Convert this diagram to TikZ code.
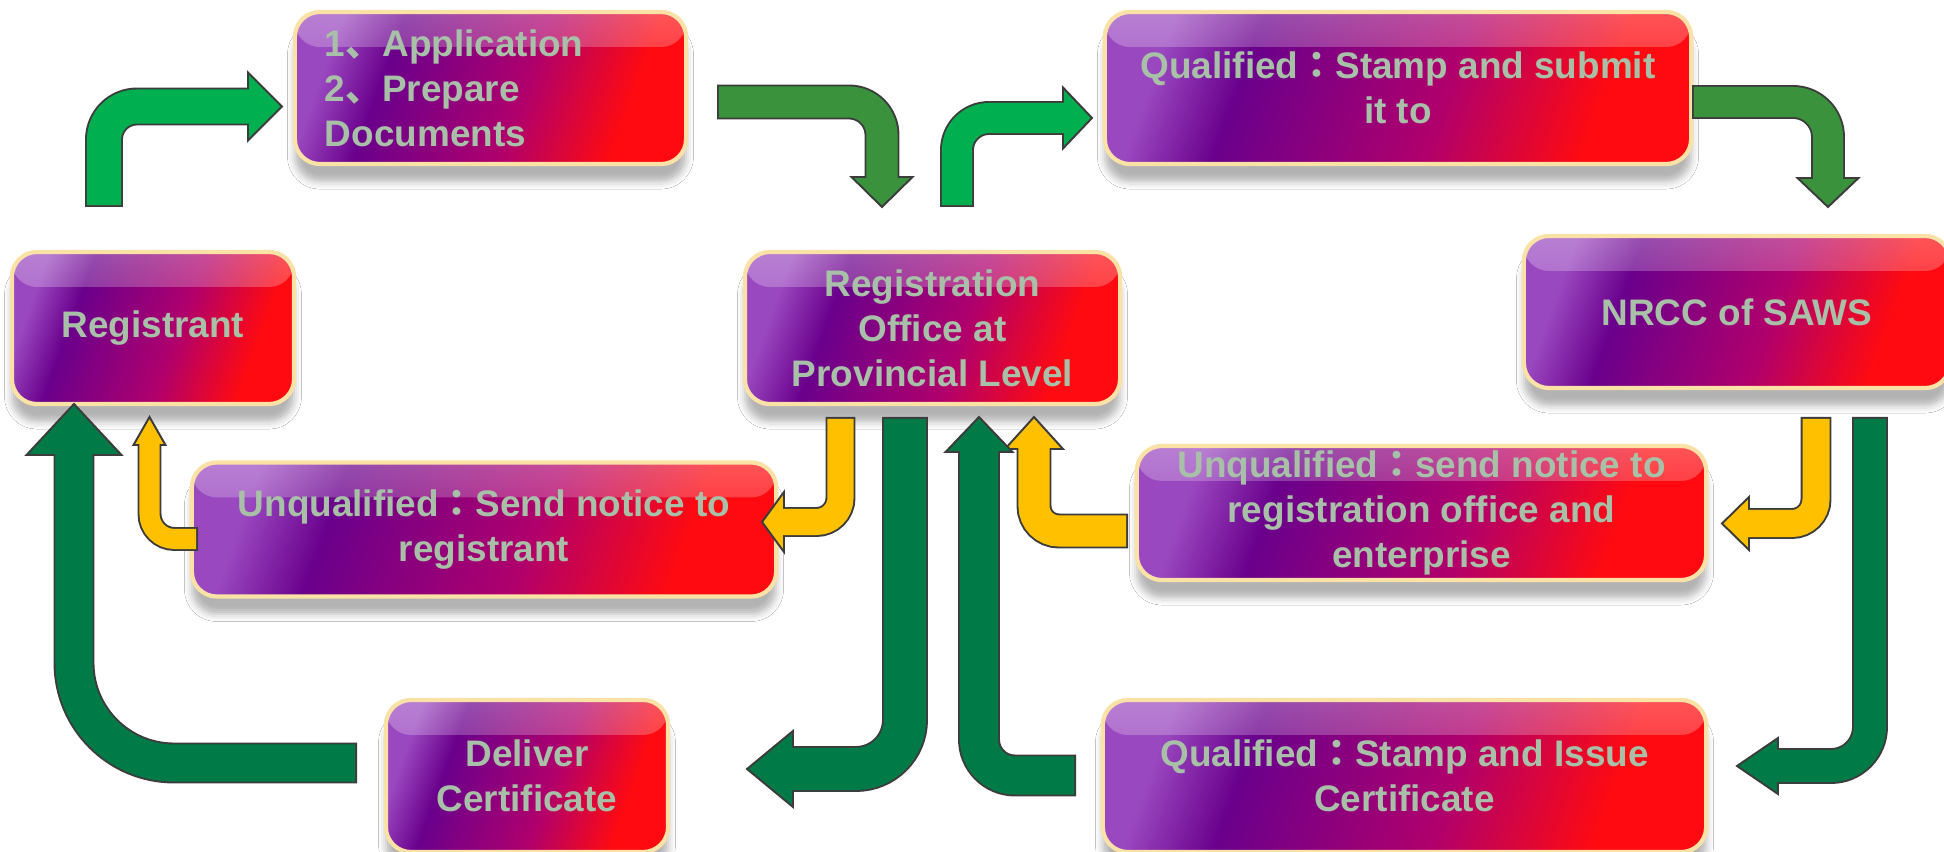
\documentclass[tikz,border=0pt]{standalone}
\usepackage{fontspec}
\setmainfont{Liberation Sans}
\newfontfamily\cjk{Noto Sans CJK SC}
\newfontfamily\cjkmid{Noto Sans CJK TC}
\usepackage{tikz}
\usetikzlibrary{shadows.blur,fadings}
\definecolor{BoxRim}{HTML}{FAE2A6}
\definecolor{BoxText}{HTML}{A8C0A8}
\definecolor{BoxLilac}{HTML}{9A48C0}
\definecolor{BoxPurple}{HTML}{6A008C}
\definecolor{BoxMagenta}{HTML}{B0006C}
\definecolor{BoxRed}{HTML}{FF0A10}
\definecolor{LeafGreen}{HTML}{00B050}
\definecolor{MossGreen}{HTML}{3A923C}
\definecolor{DeepGreen}{HTML}{007A46}
\definecolor{Amber}{HTML}{FFC000}
\definecolor{ArrowLine}{HTML}{3C3C3C}
\pgfdeclarehorizontalshading{glossy}{100bp}{color(0bp)=(BoxLilac); color(25bp)=(BoxLilac); color(34bp)=(BoxPurple); color(55bp)=(BoxMagenta); color(71bp)=(BoxRed); color(100bp)=(BoxRed)}

\begin{document}
\begin{tikzpicture}[x=0.01cm, y=-0.01cm,
    box/.style={rectangle, rounded corners=0.25cm, shading=glossy, shading angle=-20,
        draw=BoxRim, line width=1.2pt, text=BoxText, align=center, inner sep=0pt,
        font=\bfseries\fontsize{10.5}{12.8}\selectfont, minimum height=1.52cm,
        blur shadow={shadow xshift=0pt, shadow yshift=-5pt, shadow opacity=30},
        path picture={\fill[white, fill opacity=.3, path fading=south] (path picture bounding box.north west) rectangle ([yshift=-0.35cm]path picture bounding box.north east);}},
    shaftrim/.style 2 args={draw=ArrowLine, line width={#1+1.1pt}, rounded corners=#2},
    shaftfill/.style n args={3}{draw=#1, line width=#2, rounded corners=#3, shorten <=0.55pt, shorten >=-1pt},
    headtri/.style={draw=ArrowLine, line width=0.55pt}]
    \path[fill=white, use as bounding box] (0,0) rectangle (1944,852);

    \node[box, minimum width=2.82cm] (registrant) at (153,328) {Registrant};
    \node[box, minimum width=3.91cm, text width=3.31cm, align=left] (apply) at (490.5,88) {1{\cjk 、}Application\\2{\cjk 、}Prepare\\Documents};
    \node[box, minimum width=3.75cm] (office) at (932.5,328) {Registration\\Office at\\Provincial Level};
    \node[box, minimum width=5.86cm] (submit) at (1398,88) {Qualified{\cjkmid ：}Stamp and submit\\it to};
    \node[box, minimum width=4.26cm] (nrcc) at (1737,312) {NRCC of SAWS};
    \node[box, minimum width=5.84cm, minimum height=1.34cm] (backreg) at (484,529.5) {Unqualified{\cjkmid ：}Send notice to\\registrant};
    \node[box, minimum width=5.69cm, minimum height=1.34cm] (backoff) at (1421.5,513) {Unqualified{\cjkmid ：}send notice to\\registration office and\\enterprise};
    \node[box, minimum width=2.82cm] (deliver) at (527,776) {Deliver\\Certificate};
    \node[box, minimum width=6.03cm] (issue) at (1404.5,776) {Qualified{\cjkmid ：}Stamp and Issue\\Certificate};

    \coordinate (t1) at (104,207);   \coordinate (h1) at (248,106.5);
    \coordinate (t2) at (717,102);   \coordinate (h2) at (882,177);
    \coordinate (t3) at (957,207);   \coordinate (h3) at (1063,118);
    \coordinate (t4) at (1692,102);  \coordinate (h4) at (1828,178);
    \coordinate (t5) at (840.5,417); \coordinate (h5) at (784,522);
    \coordinate (t6) at (198,539);   \coordinate (h6) at (149.5,445);
    \coordinate (t7) at (1816,417);  \coordinate (h7) at (1749,523.5);
    \coordinate (t8) at (1128,531);  \coordinate (h8) at (1034,449);
    \coordinate (t9) at (905,417);   \coordinate (h9) at (793,769);
    \coordinate (t10) at (1076,775.5); \coordinate (h10) at (979,452);
    \coordinate (t11) at (1870,417); \coordinate (h11) at (1778,766);
    \coordinate (t12) at (357,763);  \coordinate (h12) at (74,455);

    \draw[shaftrim={0.34cm}{0.33cm}] (t1) |- (h1);
    \filldraw[headtri, fill=LeafGreen] (248,72.5) -- (282,106.5) -- (248,140.5) -- cycle;
    \draw[shaftfill={LeafGreen}{0.34cm}{0.33cm}] (t1) |- (h1);

    \draw[shaftrim={0.31cm}{0.33cm}] (t2) -| (h2);
    \filldraw[headtri, fill=MossGreen] (851.5,177) -- (882,207) -- (912.5,177) -- cycle;
    \draw[shaftfill={MossGreen}{0.31cm}{0.33cm}] (t2) -| (h2);

    \draw[shaftrim={0.30cm}{0.32cm}] (t3) |- (h3);
    \filldraw[headtri, fill=LeafGreen] (1063,87.5) -- (1092,118) -- (1063,148.5) -- cycle;
    \draw[shaftfill={LeafGreen}{0.30cm}{0.32cm}] (t3) |- (h3);

    \draw[shaftrim={0.30cm}{0.35cm}] (t4) -| (h4);
    \filldraw[headtri, fill=MossGreen] (1797.5,178) -- (1828,207) -- (1858.5,178) -- cycle;
    \draw[shaftfill={MossGreen}{0.30cm}{0.35cm}] (t4) -| (h4);

    \draw[shaftrim={0.26cm}{0.24cm}] (t5) |- (h5);
    \filldraw[headtri, fill=Amber] (784,492) -- (762,522) -- (784,552) -- cycle;
    \draw[shaftfill={Amber}{0.26cm}{0.24cm}] (t5) |- (h5);

    \draw[shaftrim={0.20cm}{0.25cm}] (t6) -| (h6);
    \filldraw[headtri, fill=Amber] (133.5,445) -- (149.5,417) -- (165.5,445) -- cycle;
    \draw[shaftfill={Amber}{0.20cm}{0.25cm}] (t6) -| (h6);

    \draw[shaftrim={0.27cm}{0.24cm}] (t7) |- (h7);
    \filldraw[headtri, fill=Amber] (1749,497) -- (1722,523.5) -- (1749,550) -- cycle;
    \draw[shaftfill={Amber}{0.27cm}{0.24cm}] (t7) |- (h7);

    \draw[shaftrim={0.31cm}{0.25cm}] (t8) -| (h8);
    \filldraw[headtri, fill=Amber] (1005,449) -- (1034,417) -- (1063,449) -- cycle;
    \draw[shaftfill={Amber}{0.31cm}{0.25cm}] (t8) -| (h8);

    \draw[shaftrim={0.42cm}{0.49cm}] (t9) |- (h9);
    \filldraw[headtri, fill=DeepGreen] (793,731) -- (747,769) -- (793,807) -- cycle;
    \draw[shaftfill={DeepGreen}{0.42cm}{0.49cm}] (t9) |- (h9);

    \draw[shaftrim={0.38cm}{0.36cm}] (t10) -| (h10);
    \filldraw[headtri, fill=DeepGreen] (945.5,452) -- (979,417) -- (1012.5,452) -- cycle;
    \draw[shaftfill={DeepGreen}{0.38cm}{0.36cm}] (t10) -| (h10);

    \draw[shaftrim={0.32cm}{0.39cm}] (t11) |- (h11);
    \filldraw[headtri, fill=DeepGreen] (1778,738) -- (1737,766) -- (1778,794) -- cycle;
    \draw[shaftfill={DeepGreen}{0.32cm}{0.39cm}] (t11) |- (h11);

    \draw[shaftrim={0.37cm}{1.00cm}] (t12) -| (h12);
    \filldraw[headtri, fill=DeepGreen] (26.5,455) -- (74,404) -- (121.5,455) -- cycle;
    \draw[shaftfill={DeepGreen}{0.37cm}{1.00cm}] (t12) -| (h12);
\end{tikzpicture}
\end{document}
